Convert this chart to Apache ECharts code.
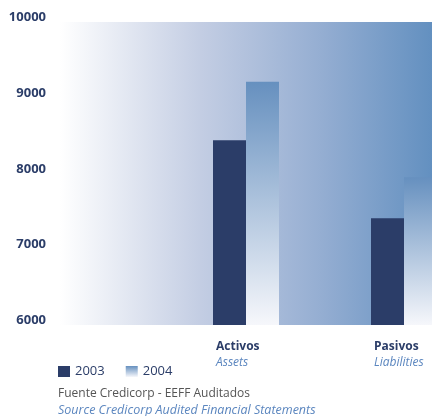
<!DOCTYPE html>
<html>
<head>
<meta charset="utf-8">
<script src="https://cdn.jsdelivr.net/npm/echarts@6/dist/echarts.min.js"></script>
<style>
  html, body { margin: 0; padding: 0; background: #fff; }
  #chart { width: 432px; height: 416px; }
</style>
</head>
<body>
<div id="chart"></div>
<script>
// datos
var categories = ["Activos", "Pasivos"];
var categoriesEn = ["Assets", "Liabilities"];
var years = ["2003", "2004"];
var values2003 = [8440, 7410];
var values2004 = [9210, 7950];
var yTicks = [6000, 7000, 8000, 9000, 10000];

var navy = "#2b3d68";
var lightBlue = "#5b86bf";

var chart = echarts.init(document.getElementById("chart"));

var bgColor = new echarts.graphic.LinearGradient(0, 0, 1, 0, [
  { offset: 0, color: "#ffffff" },
  { offset: 0.38, color: "#c3cde3" },
  { offset: 0.7, color: "#95aed2" },
  { offset: 1, color: "#6390c0" },
]);
var bar2004Color = new echarts.graphic.LinearGradient(0, 0, 0, 1, [
  { offset: 0, color: "#6690bf" },
  { offset: 1, color: "#f6f7fb" },
]);

var option = {
  animation: false,
  title: {
    left: 58,
    top: 388,
    text: "Fuente Credicorp - EEFF Auditados",
    subtext: "Source Credicorp Audited Financial Statements",
    itemGap: 4,
    padding: 0,
    textStyle: {
      fontFamily: "Open Sans",
      fontSize: 12,
      fontWeight: "normal",
      color: "#555555",
    },
    subtextStyle: {
      fontFamily: "Open Sans",
      fontSize: 12.5,
      fontStyle: "italic",
      color: lightBlue,
    },
  },
  legend: {
    left: 53,
    top: 360,
    icon: "rect",
    itemWidth: 12,
    itemHeight: 11,
    itemGap: 21,
    data: years,
    textStyle: {
      fontFamily: "Open Sans",
      fontSize: 13,
      color: navy,
    },
  },
  grid: [
    {
      // fondo degradado
      show: true,
      left: 60,
      right: 0,
      top: 22,
      bottom: 91,
      borderWidth: 0,
      backgroundColor: bgColor,
    },
    {
      left: 167,
      width: 316,
      top: 22,
      bottom: 91,
      outerBoundsMode: "none",
    },
  ],
  xAxis: {
    gridIndex: 1,
    type: "category",
    data: categories,
    axisLine: { show: false },
    axisTick: { show: false },
    axisLabel: {
      margin: 14,
      formatter: function (value, i) {
        return "{a|" + value + "}\n{b|" + categoriesEn[i] + "}";
      },
      rich: {
        a: {
          width: 60,
          align: "left",
          fontFamily: "Open Sans",
          fontWeight: "bold",
          fontSize: 12,
          lineHeight: 16,
          color: navy,
        },
        b: {
          width: 60,
          align: "left",
          fontFamily: "Open Sans",
          fontStyle: "italic",
          fontSize: 12,
          lineHeight: 16,
          color: lightBlue,
        },
      },
    },
  },
  yAxis: {
    gridIndex: 1,
    type: "value",
    min: yTicks[0],
    max: yTicks[yTicks.length - 1],
    interval: 1000,
    axisLine: { show: false },
    axisTick: { show: false },
    splitLine: { show: false },
    axisLabel: {
      margin: 121,
      verticalAlign: "bottom",
      lineHeight: 9,
      formatter: function (v) {
        return String(v);
      },
      fontFamily: "Open Sans",
      fontWeight: "bold",
      fontSize: 13,
      color: navy,
    },
  },
  series: [
    {
      name: years[0],
      type: "bar",
      xAxisIndex: 0,
      yAxisIndex: 0,
      barWidth: 33,
      barGap: "0%",
      data: values2003,
      itemStyle: { color: navy },
    },
    {
      name: years[1],
      type: "bar",
      xAxisIndex: 0,
      yAxisIndex: 0,
      barWidth: 33,
      barGap: "0%",
      data: values2004,
      itemStyle: { color: bar2004Color },
    },
  ],
};
chart.setOption(option);
</script>
</body>
</html>
